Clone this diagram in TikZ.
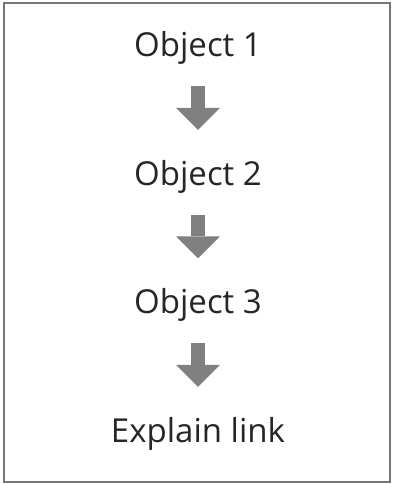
\documentclass[tikz,border=0pt]{standalone}
\usepackage{fontspec}
\setmainfont{Open Sans}
\usetikzlibrary{arrows.meta}
\definecolor{framegrey}{RGB}{118,118,118}
\definecolor{arrowgrey}{RGB}{128,128,128}
\definecolor{textgrey}{RGB}{38,38,38}
\tikzset{
	chainitem/.style={anchor=base, inner sep=0pt, text height=24pt, text depth=8pt,
		font=\fontsize{33}{39}\selectfont, text=textgrey},
	downarrow/.style={draw=arrowgrey, line width=14pt,
		-{Triangle[length=22pt,width=44pt,line width=0pt]},
		shorten <=21pt, shorten >=31.5pt}
}
\begin{document}
\begin{tikzpicture}[x=1pt,y=1pt]
\useasboundingbox (0,0) rectangle (394,484);
\draw[framegrey, line width=1.5pt] (4,2) rectangle (390,481);
\path
	(198,427) node[chainitem] (obj1) {Object 1}
	(198,298.5) node[chainitem] (obj2) {Object 2}
	(198,170) node[chainitem] (obj3) {Object 3}
	(198,41.5) node[chainitem] (link) {Explain link};
\draw[downarrow] (obj1.south) -- (obj2.north);
\draw[downarrow] (obj2.south) -- (obj3.north);
\draw[downarrow] (obj3.south) -- (link.north);
\end{tikzpicture}
\end{document}
